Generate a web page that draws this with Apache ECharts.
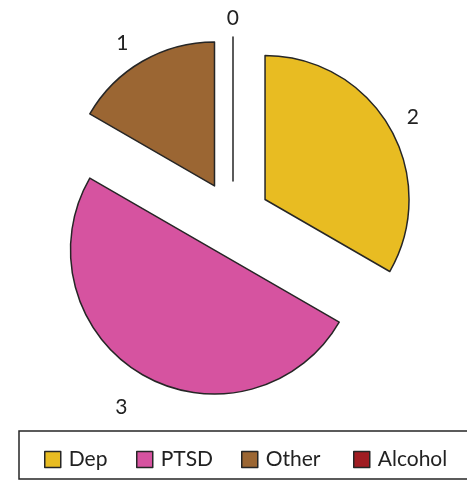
<!DOCTYPE html>
<html>
<head>
<meta charset="utf-8">
<script src="https://cdn.jsdelivr.net/npm/echarts@6/dist/echarts.min.js"></script>
<style>
  html, body { margin: 0; padding: 0; background: #fff; }
  #chart { width: 467px; height: 484px; }
</style>
</head>
<body>
<div id="chart"></div>
<script>
// Diagnosis counts
const categories = ['Dep', 'PTSD', 'Other', 'Alcohol'];
const counts = [2, 3, 1, 0];
const colors = ['#E8BC22', '#D653A0', '#9B6633', '#A01C22'];

const FONT = 'Lato, "Open Sans", sans-serif';
const chart = echarts.init(document.getElementById('chart'), null, { renderer: 'canvas' });

// one legend entry per category, spaced along the framed strip at the bottom
const legendLeft = [44, 136, 241, 353];
const legends = categories.map((name, i) => ({
  data: [name],
  left: legendLeft[i],
  top: 449,
  padding: 0,
  itemWidth: 16,
  itemHeight: 16,
  icon: 'rect',
  selectedMode: false,
  itemStyle: { borderColor: '#262626', borderWidth: 1.5 },
  textStyle: { fontFamily: FONT, fontSize: 21, color: '#222', padding: [0, 0, 0, 3] }
}));

// small nudges for the value labels around the exploded slices
const labelNudge = [[0, -3], [-3, 20], [-2, -6], [11, -5]];

chart.setOption({
  animation: false,
  backgroundColor: '#ffffff',
  color: colors,
  legend: legends,
  graphic: [{
    type: 'rect',
    shape: { x: 19, y: 431, width: 460, height: 48 },
    style: { fill: 'none', stroke: '#262626', lineWidth: 1.5 },
    silent: true
  }],
  series: [{
    type: 'pie',
    center: [233, 218],
    radius: 144,
    startAngle: 90,
    clockwise: true,
    selectedMode: 'multiple',
    selectedOffset: 37,
    avoidLabelOverlap: false,
    emphasis: { disabled: true },
    itemStyle: { borderColor: '#262626', borderWidth: 1.5 },
    select: { itemStyle: { borderColor: '#262626', borderWidth: 1.5 } },
    label: {
      show: true,
      position: 'outside',
      formatter: '{c}',
      fontFamily: FONT,
      fontSize: 21,
      color: '#222'
    },
    labelLine: { show: false, length: 14, length2: 0 },
    labelLayout: (p) => ({ dx: labelNudge[p.dataIndex][0], dy: labelNudge[p.dataIndex][1] }),
    data: categories.map((name, i) => ({ name, value: counts[i], selected: true }))
  }]
});
</script>
</body>
</html>
